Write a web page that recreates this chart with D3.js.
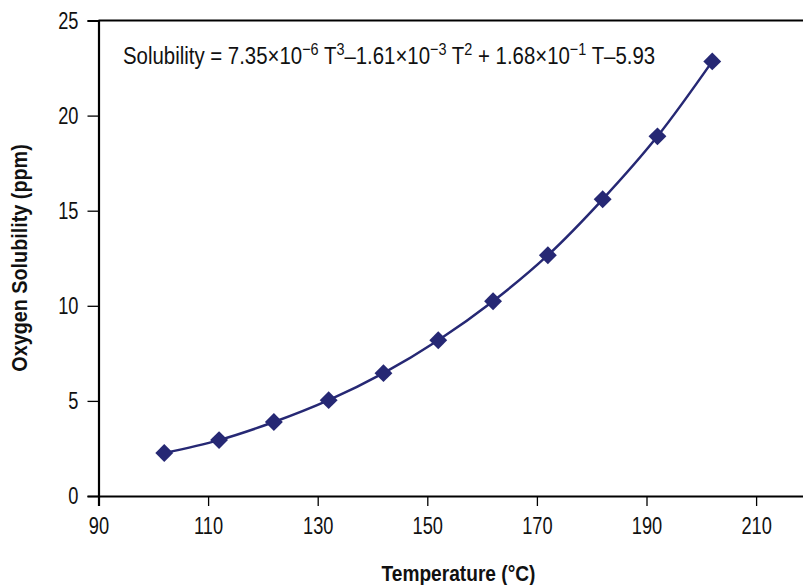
<!DOCTYPE html>
<html>
<head>
<meta charset="utf-8">
<script src="https://cdn.jsdelivr.net/npm/d3@7"></script>
<style>
  html, body { margin: 0; padding: 0; background: #fff; }
  svg { display: block; overflow: hidden; }
  text { font-family: "Liberation Sans", Arial, sans-serif; fill: #111; }
</style>
</head>
<body>
<svg id="chart" width="803" height="585"></svg>
<script>
// Oxygen solubility measured against temperature
const temperatures = [102, 112, 122, 132, 142, 152, 162, 172, 182, 192, 202];
const solubility   = [2.26, 2.94, 3.89, 5.04, 6.46, 8.19, 10.24, 12.66, 15.6, 18.91, 22.85];
const xTicks = [90, 110, 130, 150, 170, 190, 210];
const yTicks = [0, 5, 10, 15, 20, 25];

const points = temperatures.map((t, i) => ({ t, s: solubility[i] }));

const svg = d3.select("#chart");
const plotLeft = 98.5, plotTop = 20.5, plotBottom = 496;
const markColor = "#262874";
const narrow = 0.76;       // horizontal squeeze giving a condensed face

const x = d3.scaleLinear().domain([90, 220]).range([plotLeft, plotLeft + 130 * 5.48]);
const y = d3.scaleLinear().domain([0, 25]).range([plotBottom, plotTop]);

// frame line along the top of the plot
svg.append("line")
  .attr("x1", plotLeft).attr("x2", 803)
  .attr("y1", plotTop).attr("y2", plotTop)
  .attr("stroke", "#000").attr("stroke-width", 2);

// x axis
const xAxis = svg.append("g")
  .attr("transform", `translate(0,${plotBottom})`)
  .call(d3.axisBottom(x).tickValues(xTicks).tickSize(10).tickPadding(11).tickFormat(d3.format("d")));
xAxis.select(".domain").attr("stroke-width", 2.2).attr("stroke", "#000");
xAxis.selectAll(".tick line").attr("stroke-width", 1.3).attr("stroke", "#000");
xAxis.selectAll(".tick text")
  .attr("font-size", 24).attr("font-family", null).attr("fill", "#111")
  .attr("transform", `scale(${narrow},1)`);

// y axis
const yAxis = svg.append("g")
  .attr("transform", `translate(${plotLeft},0)`)
  .call(d3.axisLeft(y).tickValues(yTicks).tickSize(11).tickPadding(9).tickFormat(d3.format("d")));
yAxis.select(".domain").attr("stroke-width", 2.2).attr("stroke", "#000");
yAxis.selectAll(".tick line").attr("stroke-width", 1.3).attr("stroke", "#000");
yAxis.selectAll(".tick text")
  .attr("font-size", 24).attr("font-family", null).attr("fill", "#111")
  .attr("x", -20 / narrow)
  .attr("transform", `scale(${narrow},1)`);

// axis titles
svg.append("text")
  .attr("transform", "translate(458.5,581) scale(0.87,1)")
  .attr("text-anchor", "middle")
  .attr("font-size", 22).attr("font-weight", "bold")
  .text("Temperature (°C)");

svg.append("text")
  .attr("transform", "translate(27,258) rotate(-90) scale(0.9,1)")
  .attr("text-anchor", "middle")
  .attr("font-size", 22).attr("font-weight", "bold")
  .text("Oxygen Solubility (ppm)");

// fitted equation
const eq = svg.append("text")
  .attr("transform", "translate(123,64) scale(0.85,1)")
  .attr("font-size", 24);
const parts = [
  ["Solubility = 7.35×10", false], ["\u22126", true], [" T", false], ["3", true],
  ["\u20131.61×10", false], ["\u22123", true], [" T", false], ["2", true],
  [" + 1.68×10", false], ["\u22121", true], [" T\u20135.93", false]
];
let raised = false;
parts.forEach(([txt, sup]) => {
  const ts = eq.append("tspan").text(txt);
  if (sup && !raised) { ts.attr("dy", -9).attr("font-size", 17); raised = true; }
  else if (sup) { ts.attr("font-size", 17); }
  else if (raised) { ts.attr("dy", 9); raised = false; }
});

// smoothed line through the measurements
const line = d3.line()
  .x(d => x(d.t)).y(d => y(d.s))
  .curve(d3.curveCatmullRom.alpha(0.5));

svg.append("path")
  .datum(points)
  .attr("d", line)
  .attr("fill", "none")
  .attr("stroke", markColor)
  .attr("stroke-width", 2.5);

// diamond markers
svg.selectAll(".pt")
  .data(points)
  .join("path")
  .attr("class", "pt")
  .attr("d", d3.symbol(d3.symbolSquare, 160)())
  .attr("transform", d => `translate(${x(d.t)},${y(d.s)}) rotate(45)`)
  .attr("fill", markColor);
</script>
</body>
</html>
